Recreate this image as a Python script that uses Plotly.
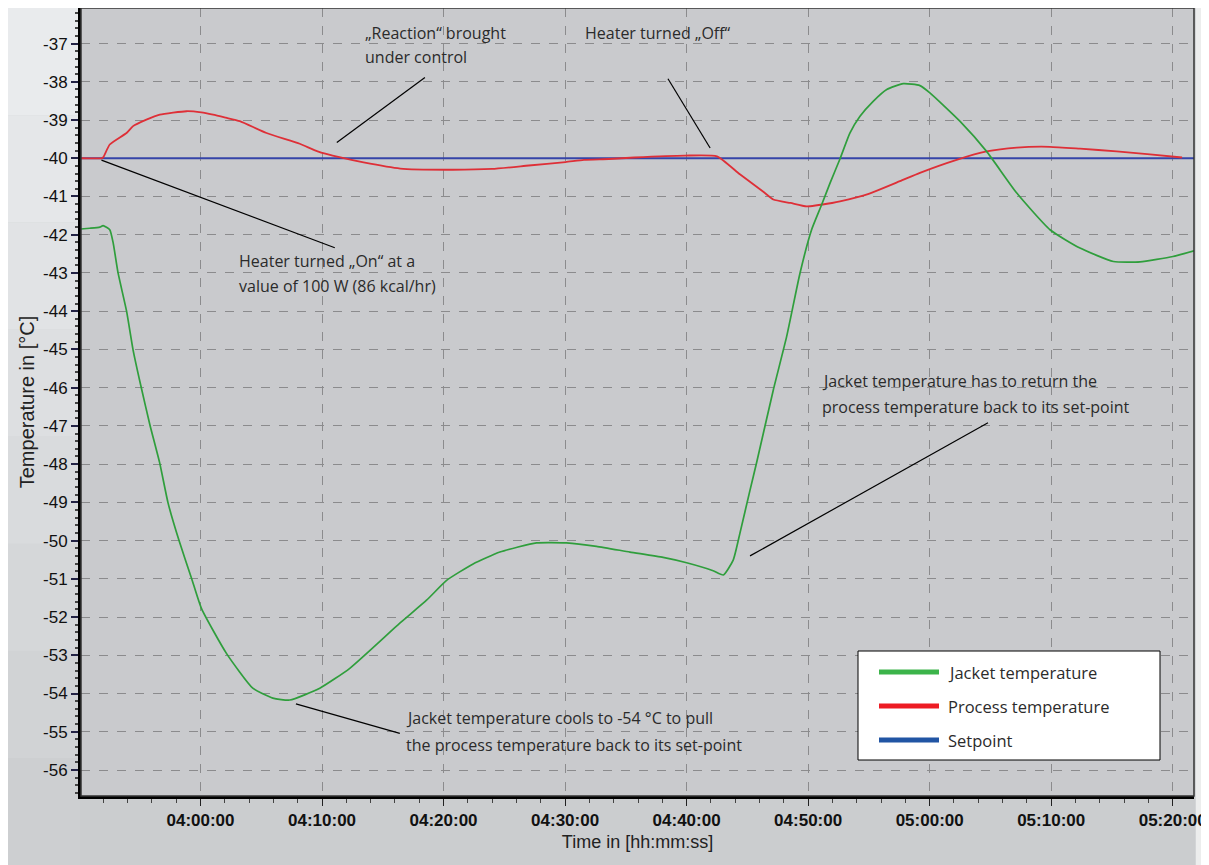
import plotly.graph_objects as go

DAY = "2020-01-01 "

# ---------------- data ----------------
jacket_time = ["03:50:10", "03:50:53", "03:51:43", "03:51:59", "03:52:32", "03:52:49", "03:53:13",
               "03:53:55", "03:54:27", "03:55:08", "03:55:50", "03:56:39", "03:57:20", "03:58:14",
               "03:59:16", "04:00:05", "04:02:08", "04:04:18", "04:05:57", "04:07:21", "04:09:49",
               "04:12:17", "04:16:24", "04:18:36", "04:20:15", "04:22:26", "04:24:38", "04:27:39",
               "04:30:07", "04:32:35", "04:35:20", "04:38:04", "04:40:00", "04:42:11", "04:43:01",
               "04:43:50", "04:44:23", "04:45:13", "04:45:46", "04:47:08", "04:48:14", "04:49:20",
               "04:50:17", "04:51:07", "04:51:48", "04:52:37", "04:53:26", "04:54:16", "04:55:21",
               "04:56:28", "04:57:50", "04:59:12", "05:00:01", "05:02:29", "05:04:41", "05:07:10",
               "05:09:54", "05:12:22", "05:15:07", "05:17:19", "05:20:01", "05:21:45"]
jacket_temp = [-41.85, -41.83, -41.80, -41.76, -41.87, -42.22, -43.00,
               -44.00, -45.01, -46.01, -46.97, -47.98, -49.02, -50.00,
               -50.99, -51.78, -52.95, -53.86, -54.12, -54.17, -53.86,
               -53.34, -52.16, -51.56, -51.04, -50.61, -50.30, -50.06,
               -50.06, -50.15, -50.30, -50.44, -50.58, -50.79, -50.90,
               -50.51, -49.81, -48.68, -47.95, -46.06, -44.66, -43.00,
               -41.87, -41.21, -40.65, -40.02, -39.34, -38.90, -38.51,
               -38.20, -38.05, -38.10, -38.29, -39.03, -39.82, -40.91,
               -41.87, -42.35, -42.70, -42.71, -42.57, -42.42]

process_time = ["03:50:10", "03:51:51", "03:51:59", "03:52:32", "03:53:55", "03:54:27", "03:55:33",
                "03:56:39", "03:58:51", "04:00:04", "04:01:02", "04:02:05", "04:03:14", "04:05:26",
                "04:08:10", "04:09:38", "04:11:31", "04:13:25", "04:16:26", "04:20:11", "04:23:59",
                "04:27:01", "04:30:02", "04:31:33", "04:33:36", "04:35:42", "04:39:52", "04:42:30",
                "04:44:23", "04:46:17", "04:47:08", "04:48:33", "04:49:53", "04:51:58", "04:52:37",
                "04:54:59", "04:57:33", "04:59:12", "05:02:13", "05:04:41", "05:07:10", "05:09:54",
                "05:12:22", "05:15:23", "05:18:08", "05:20:46"]
process_temp = [-40.00, -40.00, -39.98, -39.64, -39.34, -39.16, -38.99,
                -38.86, -38.77, -38.80, -38.86, -38.94, -39.03, -39.34,
                -39.62, -39.82, -39.98, -40.11, -40.27, -40.30, -40.28,
                -40.19, -40.10, -40.04, -40.02, -39.98, -39.93, -39.95,
                -40.42, -40.87, -41.08, -41.17, -41.26, -41.17, -41.13,
                -40.93, -40.60, -40.38, -40.04, -39.82, -39.72, -39.70,
                -39.75, -39.82, -39.90, -39.98]

setpoint_time = ["03:50:10", "05:21:45"]
setpoint_temp = [-40.0, -40.0]

x_ticks = ["04:00:00", "04:10:00", "04:20:00", "04:30:00", "04:40:00", "04:50:00", "05:00:00",
           "05:10:00", "05:20:00"]
y_ticks = list(range(-56, -36))

series_names = ["Jacket temperature", "Process temperature", "Setpoint"]

# annotation texts (lines) and callout lines in data coordinates
note_lines = [
    ("04:13:21", -36.72, "„Reaction“ brought"),
    ("04:13:21", -37.35, "under control"),
    ("04:31:28", -36.72, "Heater turned „Off“"),
    ("04:02:59", -42.68, "Heater turned „On“ at a"),
    ("04:02:59", -43.34, "value of 100 W (86 kcal/hr)"),
    ("04:50:58", -45.82, "Jacket temperature has to return the"),
    ("04:50:58", -46.50, "process temperature back to its set-point"),
    ("04:16:44", -54.64, "Jacket temperature cools to -54 °C to pull"),
    ("04:16:44", -55.35, "the process temperature back to its set-point"),
]
callouts = [
    ("04:11:13", -39.59, "04:18:28", -37.89),
    ("04:38:28", -37.92, "04:41:56", -39.73),
    ("03:51:51", -40.05, "04:11:03", -42.34),
    ("04:45:13", -50.40, "05:04:48", -46.92),
    ("04:07:51", -54.27, "04:16:24", -55.04),
]

# ---------------- style ----------------
# the page body adds an 8px offset, so the figure is 8px smaller than the window
OFF = 8
W, H = 1209 - OFF, 865 - OFF
PX0, PX1, PY0, PY1 = 81, 1194, 8, 796          # plot area in window pixels
L, R, T, B = PX0 - OFF, 1209 - PX1, PY0 - OFF, 865 - PY1
line_colors = ["#2f9e3c", "#de2f37", "#3544a8"]
legend_colors = ["#3cb44a", "#ed1c24", "#2155a4"]
note_font = dict(family="Open Sans, Noto Sans, sans-serif", size=16, color="#2b2b2b")


def t(s):
    return DAY + s


def px(x):
    return (x - PX0) / (PX1 - PX0)


def py(y):
    return (PY1 - y) / (PY1 - PY0)


fig = go.Figure()
fig.add_trace(go.Scatter(x=[t(s) for s in setpoint_time], y=setpoint_temp, mode="lines",
                         name=series_names[2], line=dict(color=line_colors[2], width=2),
                         showlegend=False))
fig.add_trace(go.Scatter(x=[t(s) for s in process_time], y=process_temp, mode="lines",
                         name=series_names[1],
                         line=dict(color=line_colors[1], width=1.8, shape="spline", smoothing=0.5),
                         showlegend=False))
fig.add_trace(go.Scatter(x=[t(s) for s in jacket_time], y=jacket_temp, mode="lines",
                         name=series_names[0],
                         line=dict(color=line_colors[0], width=1.7, shape="spline", smoothing=0.5),
                         showlegend=False))

shapes = []
# soft background gradient outside the plot area (left margin lighter at the top)
band_cols = ["#e9ebed", "#e5e7e9", "#e1e3e5", "#dddfe1", "#d9dbdd", "#d5d7d9", "#d1d3d5",
             "#cdcfd1"]
nb = len(band_cols)
for i, c in enumerate(band_cols):
    y_top = OFF + i * (865 - OFF) / nb
    y_bot = OFF + (i + 1) * (865 - OFF) / nb
    shapes.append(dict(type="rect", xref="paper", yref="paper", x0=px(OFF), x1=px(PX0 - 1),
                       y0=py(y_bot), y1=py(y_top), fillcolor=c, line=dict(width=0),
                       layer="below"))
shapes.append(dict(type="rect", xref="paper", yref="paper", x0=px(PX0 - 1), x1=px(PX1 + 1),
                   y0=py(865), y1=py(PY1 + 1), fillcolor="#cbcdcf", line=dict(width=0),
                   layer="below"))
shapes.append(dict(type="rect", xref="paper", yref="paper", x0=px(PX1 + 2), x1=px(1209),
                   y0=py(865), y1=py(OFF), fillcolor="#eceded", line=dict(width=0),
                   layer="below"))
for x0, y0, x1, y1 in callouts:
    shapes.append(dict(type="line", xref="x", yref="y", x0=t(x0), y0=y0, x1=t(x1), y1=y1,
                       line=dict(color="black", width=1.2)))
# plot frame (thin top/right)
shapes.append(dict(type="rect", xref="paper", yref="paper", x0=0, y0=0, x1=1, y1=1,
                   line=dict(color="#333333", width=1.5), layer="above"))
# manual legend
shapes.append(dict(type="rect", xref="paper", yref="paper", x0=px(858), x1=px(1160),
                   y0=py(760), y1=py(651), fillcolor="white", line=dict(color="black", width=1)))
annotations = []
for i, (name, col) in enumerate(zip(series_names, legend_colors)):
    yy = 672 + 34 * i
    shapes.append(dict(type="line", xref="paper", yref="paper", x0=px(879), x1=px(939),
                       y0=py(yy), y1=py(yy), line=dict(color=col, width=5)))
    annotations.append(dict(xref="paper", yref="paper", x=px(946), y=py(yy), text=name,
                            showarrow=False, xanchor="left", yanchor="middle",
                            font=dict(family="Open Sans, Noto Sans, sans-serif", size=16.5,
                                      color="#2b2b2b")))

for x, y, txt in note_lines:
    annotations.append(dict(xref="x", yref="y", x=t(x), y=y, text=txt, showarrow=False,
                            xanchor="left", yanchor="middle", font=note_font))

fig.update_layout(
    width=W, height=H, autosize=False,
    margin=dict(l=L, r=R, t=T, b=B, pad=0),
    paper_bgcolor="#d3d5d7",
    plot_bgcolor="#c9cacd",
    shapes=shapes,
    annotations=annotations,
    showlegend=False,
)
fig.update_xaxes(
    type="date",
    automargin=False,
    range=[t("03:50:10"), t("05:21:45")],
    tickmode="array",
    tickvals=[t(s) for s in x_ticks],
    ticktext=x_ticks,
    tickfont=dict(family="Liberation Sans, Arial, sans-serif", size=17, color="#111111",
                  weight="bold"),
    ticks="outside", ticklen=7, tickwidth=1, tickcolor="#222222",
    minor=dict(ticks="outside", ticklen=4, tickcolor="#444444", dtick=120000,
               tick0=t("04:00:00"), showgrid=False),
    showgrid=True, gridcolor="#8b8b8d", griddash="dash", gridwidth=1,
    showline=True, linecolor="black", linewidth=3,
    zeroline=False,
    title=dict(text="Time in [hh:mm:ss]",
               font=dict(family="Liberation Sans, Arial, sans-serif", size=18, color="#222222"),
               standoff=6),
)
fig.update_yaxes(
    automargin=False,
    range=[-56.68, -36.07],
    tickmode="array",
    tickvals=y_ticks,
    ticktext=[str(v) for v in y_ticks],
    tickfont=dict(family="Liberation Sans, Arial, sans-serif", size=17, color="#111111"),
    ticks="outside", ticklen=7, tickwidth=2, tickcolor="#222244",
    minor=dict(ticks="outside", ticklen=3, tickcolor="#444444", dtick=0.2, tick0=-40,
               showgrid=False),
    showgrid=True, gridcolor="#8b8b8d", griddash="dash", gridwidth=1,
    showline=True, linecolor="black", linewidth=3,
    zeroline=False,
    title=dict(text="Temperature in [°C]",
               font=dict(family="Liberation Sans, Arial, sans-serif", size=20, color="#222222"),
               standoff=4),
)

fig.write_html("out.html")
